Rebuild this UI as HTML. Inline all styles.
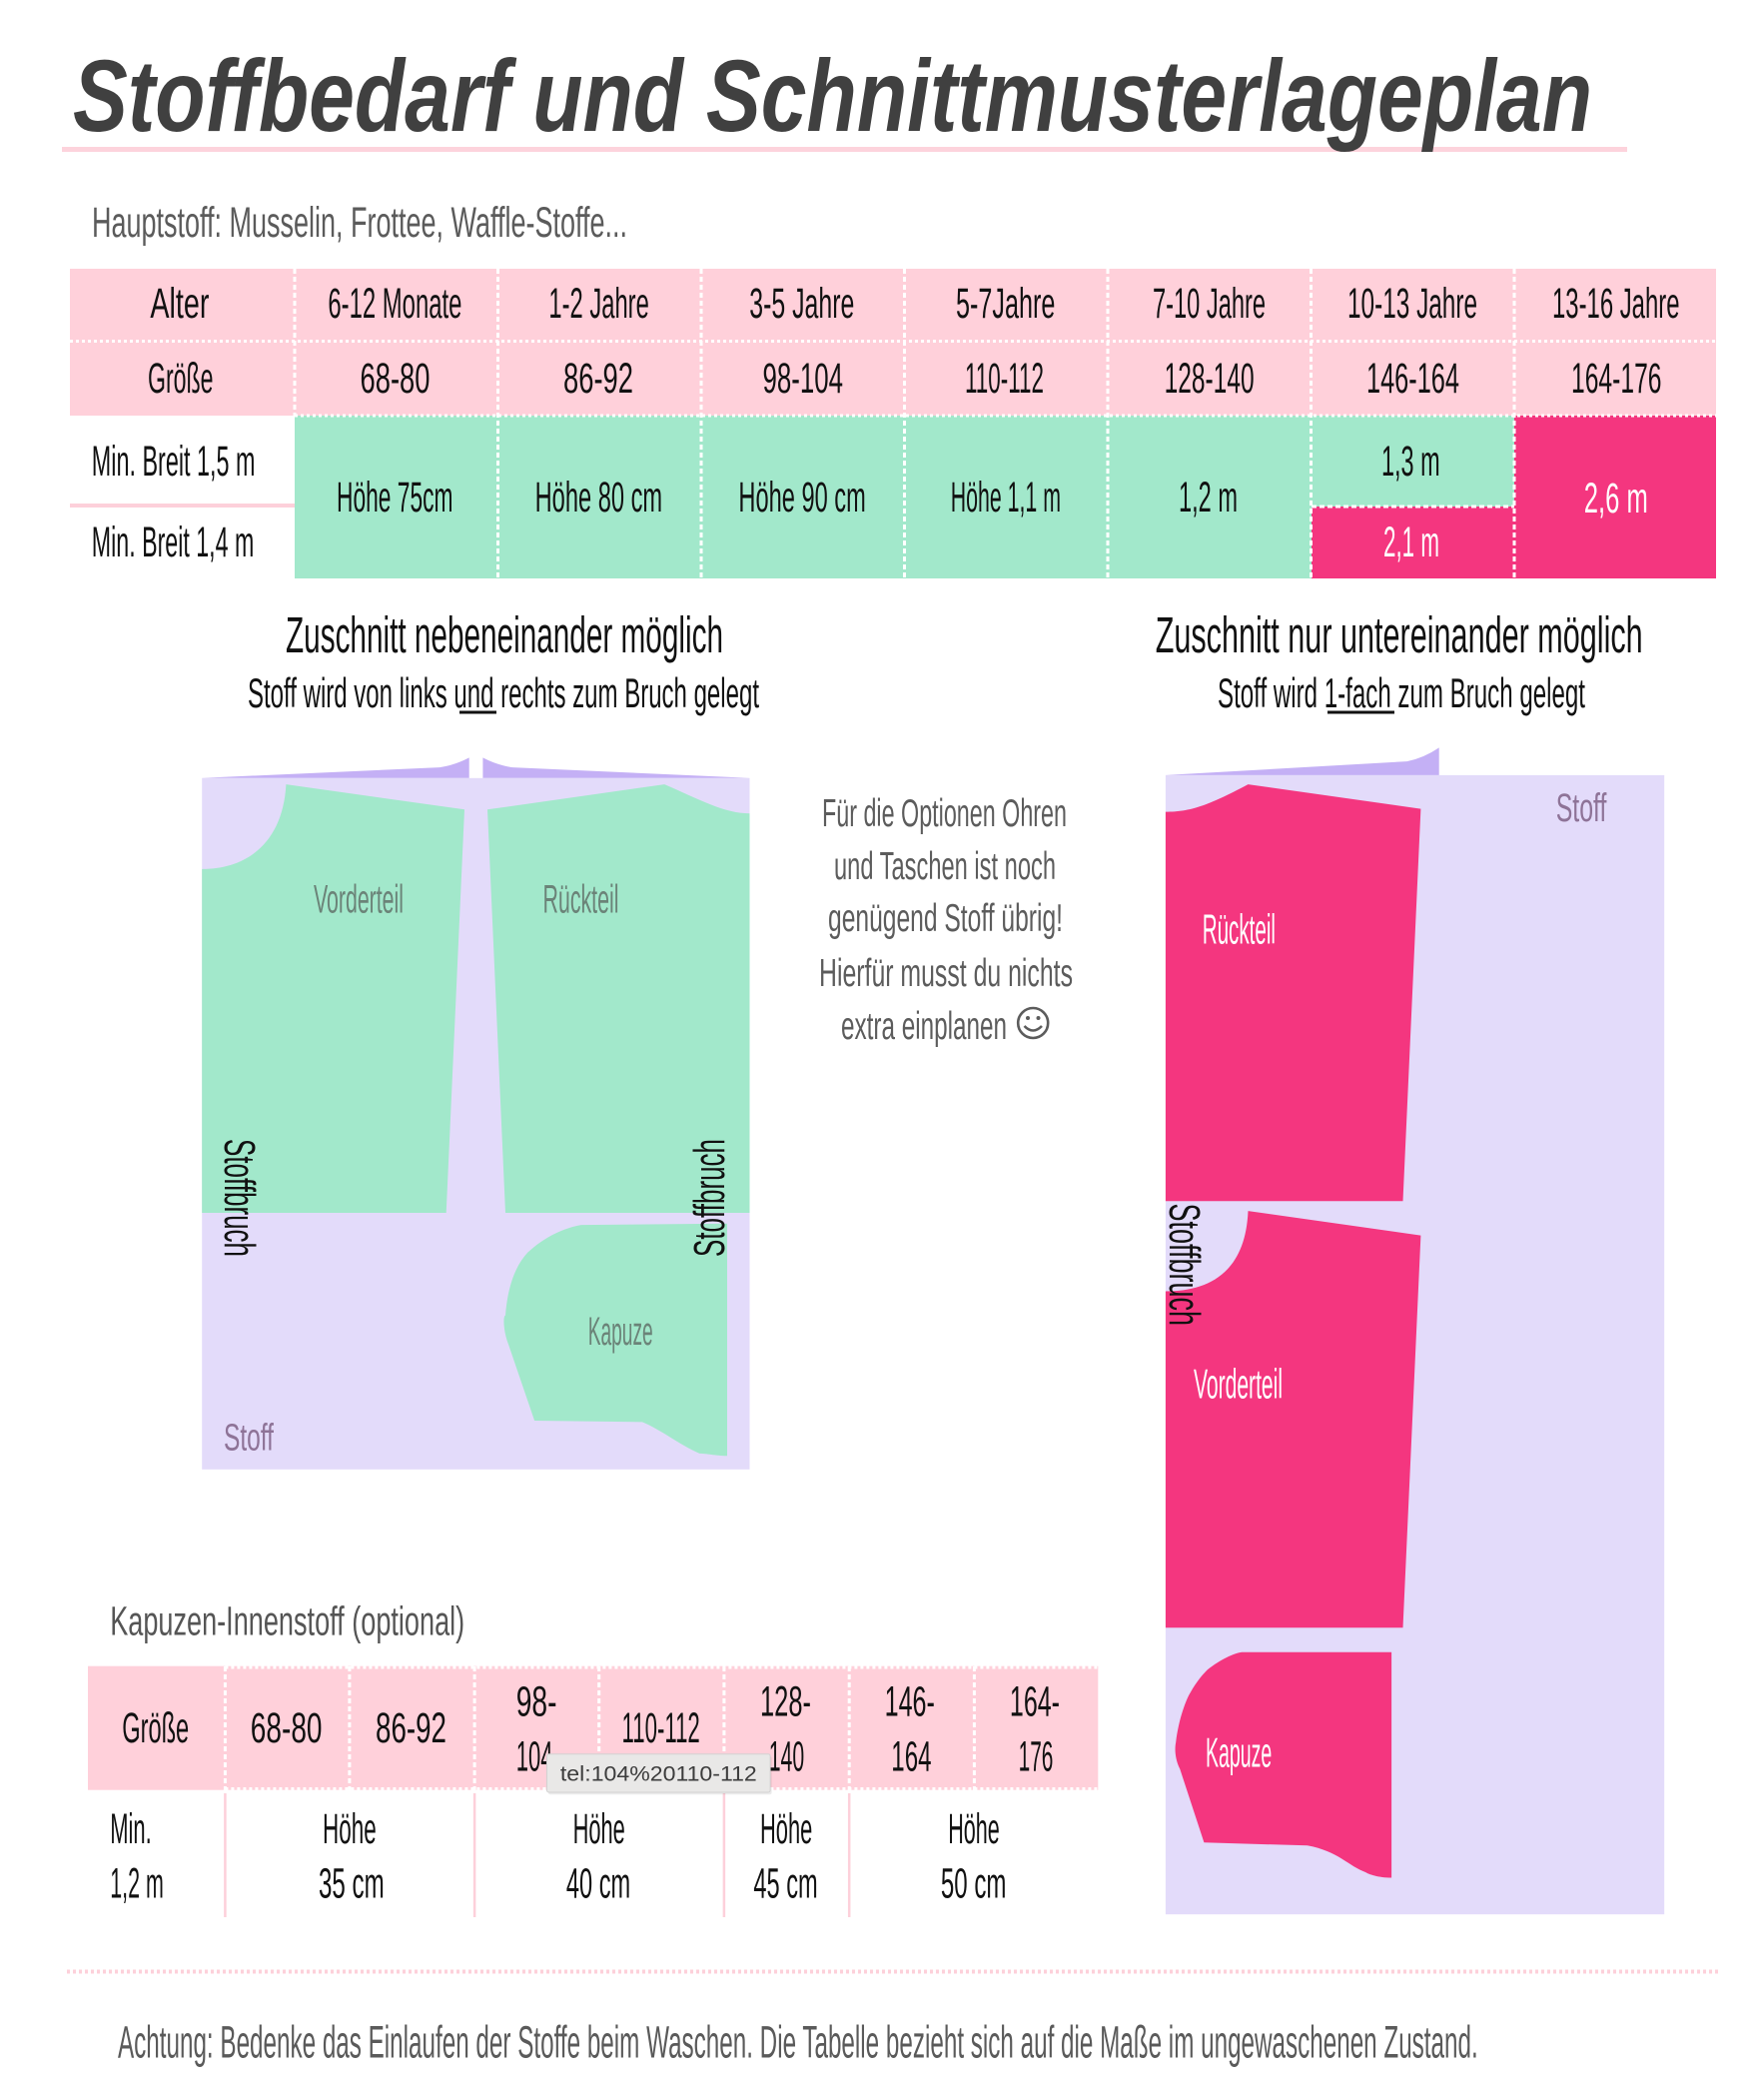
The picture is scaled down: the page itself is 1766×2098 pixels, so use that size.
<!DOCTYPE html>
<html>
<head>
<meta charset="utf-8">
<style>
  html,body{margin:0;padding:0;background:#ffffff;}
  svg{display:block;}
  text{font-family:"Liberation Sans","DejaVu Sans",sans-serif;}
</style>
</head>
<body>
<svg xmlns="http://www.w3.org/2000/svg" width="1766" height="2098" viewBox="0 0 1766 2098">
  <rect x="0" y="0" width="1766" height="2098" fill="#ffffff"/>

  <!-- Title -->
  <rect x="62" y="147" width="1567" height="5" fill="#fdd3dc"/>
  <text x="73" y="131" font-size="102" font-weight="bold" font-style="italic" fill="#404040" textLength="1521" lengthAdjust="spacingAndGlyphs">Stoffbedarf und Schnittmusterlageplan</text>

  <text x="92" y="237" font-size="43" fill="#5b5b5b" textLength="536" lengthAdjust="spacingAndGlyphs">Hauptstoff: Musselin, Frottee, Waffle-Stoffe...</text>

  <!-- Main table -->
  <rect x="70" y="269" width="1648" height="147" fill="#ffd0da"/>
  <rect x="295" y="416" width="1018" height="163" fill="#a2e8cb"/>
  <rect x="1313" y="416" width="203" height="91" fill="#a2e8cb"/>
  <rect x="1313" y="507" width="203" height="72" fill="#f4367f"/>
  <rect x="1516" y="416" width="202" height="163" fill="#f4367f"/>
  <rect x="70" y="504" width="225" height="4" fill="#fdd0da"/>

  <g stroke="#ffffff" stroke-width="3" fill="none">
    <line x1="70" y1="341.5" x2="1718" y2="341.5" stroke-dasharray="3 3"/>
    <line x1="295" y1="416" x2="1718" y2="416" stroke-dasharray="3 3"/>
    <line x1="1313" y1="507" x2="1516" y2="507" stroke-dasharray="5 3"/>
    <line x1="295" y1="269" x2="295" y2="416" stroke-dasharray="5 3"/>
    <line x1="498.5" y1="269" x2="498.5" y2="579" stroke-dasharray="5 3"/>
    <line x1="702" y1="269" x2="702" y2="579" stroke-dasharray="5 3"/>
    <line x1="905.5" y1="269" x2="905.5" y2="579" stroke-dasharray="5 3"/>
    <line x1="1109" y1="269" x2="1109" y2="579" stroke-dasharray="5 3"/>
    <line x1="1312.5" y1="269" x2="1312.5" y2="579" stroke-dasharray="5 3"/>
    <line x1="1516" y1="269" x2="1516" y2="579" stroke-dasharray="5 3"/>
  </g>

  <g font-size="43" fill="#111111" lengthAdjust="spacingAndGlyphs">
    <text x="150.4" y="318" textLength="59" lengthAdjust="spacingAndGlyphs">Alter</text>
    <text x="328.4" y="318" textLength="134" lengthAdjust="spacingAndGlyphs">6-12 Monate</text>
    <text x="549.4" y="318" textLength="100.4" lengthAdjust="spacingAndGlyphs">1-2 Jahre</text>
    <text x="750.3" y="318" textLength="105" lengthAdjust="spacingAndGlyphs">3-5 Jahre</text>
    <text x="957" y="318" textLength="99.4" lengthAdjust="spacingAndGlyphs">5-7Jahre</text>
    <text x="1154" y="318" textLength="113" lengthAdjust="spacingAndGlyphs">7-10 Jahre</text>
    <text x="1349" y="318" textLength="130" lengthAdjust="spacingAndGlyphs">10-13 Jahre</text>
    <text x="1554" y="318" textLength="127.5" lengthAdjust="spacingAndGlyphs">13-16 Jahre</text>

    <text x="148" y="393" textLength="65.5" lengthAdjust="spacingAndGlyphs">Größe</text>
    <text x="360.5" y="393" textLength="70" lengthAdjust="spacingAndGlyphs">68-80</text>
    <text x="564" y="393" textLength="70" lengthAdjust="spacingAndGlyphs">86-92</text>
    <text x="763.5" y="393" textLength="80.5" lengthAdjust="spacingAndGlyphs">98-104</text>
    <text x="966" y="393" textLength="79" lengthAdjust="spacingAndGlyphs">110-112</text>
    <text x="1165.6" y="393" textLength="90" lengthAdjust="spacingAndGlyphs">128-140</text>
    <text x="1368" y="393" textLength="93" lengthAdjust="spacingAndGlyphs">146-164</text>
    <text x="1573" y="393" textLength="90.5" lengthAdjust="spacingAndGlyphs">164-176</text>

    <text x="91.8" y="476" textLength="163.7" lengthAdjust="spacingAndGlyphs">Min. Breit 1,5 m</text>
    <text x="91.8" y="557" textLength="162.5" lengthAdjust="spacingAndGlyphs">Min. Breit 1,4 m</text>
    <text x="337" y="512" textLength="116.5" lengthAdjust="spacingAndGlyphs">Höhe 75cm</text>
    <text x="535.6" y="512" textLength="127.5" lengthAdjust="spacingAndGlyphs">Höhe 80 cm</text>
    <text x="739.4" y="512" textLength="127.4" lengthAdjust="spacingAndGlyphs">Höhe 90 cm</text>
    <text x="951.7" y="512" textLength="110.3" lengthAdjust="spacingAndGlyphs">Höhe 1,1 m</text>
    <text x="1180" y="512" textLength="59" lengthAdjust="spacingAndGlyphs">1,2 m</text>
    <text x="1383" y="476" textLength="58.6" lengthAdjust="spacingAndGlyphs">1,3 m</text>
    <text x="1385" y="557" textLength="56" lengthAdjust="spacingAndGlyphs" fill="#ffffff">2,1 m</text>
    <text x="1585.8" y="513" textLength="64" lengthAdjust="spacingAndGlyphs" fill="#ffffff">2,6 m</text>
  </g>

  <!-- Section headings -->
  <g fill="#111111">
    <text x="286" y="653" font-size="51" textLength="438" lengthAdjust="spacingAndGlyphs">Zuschnitt nebeneinander möglich</text>
    <text x="248" y="708" font-size="42" textLength="512" lengthAdjust="spacingAndGlyphs">Stoff wird von links und rechts zum Bruch gelegt</text>
    <rect x="460" y="711.5" width="37" height="3"/>
    <text x="1156.7" y="653" font-size="51" textLength="488" lengthAdjust="spacingAndGlyphs">Zuschnitt nur untereinander möglich</text>
    <text x="1219" y="708" font-size="42" textLength="368" lengthAdjust="spacingAndGlyphs">Stoff wird 1-fach zum Bruch gelegt</text>
    <rect x="1329" y="711.5" width="67" height="3"/>
  </g>

  <!-- Middle note -->
  <g fill="#5c5c5c" font-size="39">
    <text x="823" y="827" textLength="245" lengthAdjust="spacingAndGlyphs">Für die Optionen Ohren</text>
    <text x="835" y="880" textLength="222" lengthAdjust="spacingAndGlyphs">und Taschen ist noch</text>
    <text x="829" y="932" textLength="235" lengthAdjust="spacingAndGlyphs">genügend Stoff übrig!</text>
    <text x="820" y="987" textLength="254" lengthAdjust="spacingAndGlyphs">Hierfür musst du nichts</text>
    <text x="842" y="1040" textLength="166" lengthAdjust="spacingAndGlyphs">extra einplanen</text>
  </g>
  <g fill="none" stroke="#5c5c5c" stroke-width="2.6">
    <circle cx="1034.2" cy="1024" r="15"/>
    <path d="M1025.5 1027 Q1034.2 1036 1043 1027"/>
  </g>
  <circle cx="1029" cy="1019" r="2" fill="#5c5c5c"/>
  <circle cx="1039.5" cy="1019" r="2" fill="#5c5c5c"/>

  <!-- Left diagram -->
  <rect x="202.2" y="778.8" width="548.3" height="692" fill="#e3dbfa"/>
  <path d="M202.2 778.8 L440.2 768.1 Q455 766 469.7 758.4 L469.7 778.8 Z" fill="#c4b0f5"/>
  <path d="M483.4 758.4 Q498 766 513 768.1 L750.5 778.8 L483.4 778.8 Z" fill="#c4b0f5"/>
  <path d="M286.4 785.1 L465 810.3 L446.7 1214 L202.2 1214 L202.2 869.9 C248.9 869.9 283.3 841.8 286.4 785.1 Z" fill="#a2e8cb"/>
  <path d="M488 810.3 L665.2 785.1 C700 800 725 814.2 750.5 814.2 L750.5 1214 L506 1214 Z" fill="#a2e8cb"/>
  <path d="M581.8 1226.1 L728 1224.7 L728 1457.3 C715 1457 708 1455 700.4 1454.9 C680 1446 660 1430 643 1423.4 L535.1 1422 L509.1 1345.9 C503 1330 504 1316 506 1316.8 C508 1290 515 1268 528.2 1253.8 C545 1238 565 1229 581.8 1226.1 Z" fill="#a2e8cb"/>
  <g fill="#6b8378" font-size="40">
    <text x="314" y="913.5" textLength="90" lengthAdjust="spacingAndGlyphs">Vorderteil</text>
    <text x="543.5" y="913.5" textLength="76" lengthAdjust="spacingAndGlyphs">Rückteil</text>
    <text x="588.7" y="1346" textLength="65" lengthAdjust="spacingAndGlyphs">Kapuze</text>
  </g>
  <text x="224" y="1451.5" font-size="38" fill="#8e7397" textLength="50" lengthAdjust="spacingAndGlyphs">Stoff</text>
  <text transform="translate(225,1140) rotate(90)" x="0" y="0" font-size="44" fill="#111111" textLength="118" lengthAdjust="spacingAndGlyphs">Stoffbruch</text>
  <text transform="translate(725,1258) rotate(-90)" x="0" y="0" font-size="44" fill="#111111" textLength="118" lengthAdjust="spacingAndGlyphs">Stoffbruch</text>

  <!-- Right diagram -->
  <rect x="1166.9" y="775.9" width="499.3" height="1140.3" fill="#e3dbfa"/>
  <path d="M1166.9 775.9 L1408.6 762.1 Q1425 759 1440.7 748.4 L1440.7 775.9 Z" fill="#c4b0f5"/>
  <path d="M1166.9 812.6 C1191.7 812.6 1208.9 806.5 1249.5 785.1 L1422.4 809.6 L1404.5 1202.2 L1166.9 1202.2 Z" fill="#f4367f"/>
  <path d="M1249.5 1212.1 L1422.4 1236.6 L1404.5 1629.2 L1166.9 1629.2 L1166.9 1292.5 C1208.9 1292.5 1246.8 1275 1249.5 1212.1 Z" fill="#f4367f"/>
  <path d="M1243.3 1653.8 L1393.1 1653.8 L1393.1 1879.5 C1380 1879.5 1370 1876 1367.3 1874.1 C1350 1868 1340 1853 1308.8 1847.3 L1205.4 1844.3 L1181.3 1770.8 C1176 1760 1176 1750 1177.2 1744 C1180 1720 1188 1700 1191.7 1694.3 C1198 1683 1205 1675 1208.9 1671.3 C1222 1661 1235 1655 1243.3 1653.8 Z" fill="#f4367f"/>
  <g fill="#ffffff" font-size="42">
    <text x="1203.7" y="944.3" textLength="73.3" lengthAdjust="spacingAndGlyphs">Rückteil</text>
    <text x="1195" y="1399.6" textLength="89" lengthAdjust="spacingAndGlyphs">Vorderteil</text>
    <text x="1207" y="1768.5" textLength="66.3" lengthAdjust="spacingAndGlyphs">Kapuze</text>
  </g>
  <text x="1557.7" y="821.8" font-size="40" fill="#8e7397" textLength="50.7" lengthAdjust="spacingAndGlyphs">Stoff</text>
  <text transform="translate(1171,1204.5) rotate(90)" x="0" y="0" font-size="44" fill="#111111" textLength="122.5" lengthAdjust="spacingAndGlyphs">Stoffbruch</text>

  <!-- Kapuzen-Innenstoff table -->
  <text x="110.2" y="1636.7" font-size="41" fill="#555555" textLength="355" lengthAdjust="spacingAndGlyphs">Kapuzen-Innenstoff (optional)</text>
  <rect x="88" y="1667.7" width="1011.3" height="124" fill="#ffd0da"/>
  <g stroke="#ffffff" stroke-width="3" fill="none">
    <line x1="225.4" y1="1669" x2="1099.3" y2="1669" stroke-dasharray="3 3"/>
    <line x1="225.4" y1="1790.5" x2="1099.3" y2="1790.5" stroke-dasharray="3 3"/>
    <line x1="225.4" y1="1668" x2="225.4" y2="1792" stroke-dasharray="5 3"/>
    <line x1="349.9" y1="1668" x2="349.9" y2="1792" stroke-dasharray="5 3"/>
    <line x1="475.1" y1="1668" x2="475.1" y2="1792" stroke-dasharray="5 3"/>
    <line x1="599.7" y1="1668" x2="599.7" y2="1792" stroke-dasharray="5 3"/>
    <line x1="724.9" y1="1668" x2="724.9" y2="1792" stroke-dasharray="5 3"/>
    <line x1="850.2" y1="1668" x2="850.2" y2="1792" stroke-dasharray="5 3"/>
    <line x1="975.4" y1="1668" x2="975.4" y2="1792" stroke-dasharray="5 3"/>
  </g>
  <g stroke="#fdd0da" stroke-width="2.5">
    <line x1="225.4" y1="1795" x2="225.4" y2="1919"/>
    <line x1="475.1" y1="1795" x2="475.1" y2="1919"/>
    <line x1="724.9" y1="1795" x2="724.9" y2="1919"/>
    <line x1="850.2" y1="1795" x2="850.2" y2="1919"/>
  </g>
  <g font-size="43" fill="#111111">
    <text x="122.2" y="1744" textLength="67" lengthAdjust="spacingAndGlyphs">Größe</text>
    <text x="250.8" y="1744" textLength="71.7" lengthAdjust="spacingAndGlyphs">68-80</text>
    <text x="376" y="1744" textLength="71" lengthAdjust="spacingAndGlyphs">86-92</text>
    <text x="516.7" y="1717.3" textLength="40.8" lengthAdjust="spacingAndGlyphs">98-</text>
    <text x="516.7" y="1772.7" textLength="36.8" lengthAdjust="spacingAndGlyphs">104</text>
    <text x="622.5" y="1744" textLength="78.3" lengthAdjust="spacingAndGlyphs">110-112</text>
    <text x="761" y="1717.3" textLength="51" lengthAdjust="spacingAndGlyphs">128-</text>
    <text x="769.7" y="1772.7" textLength="35.5" lengthAdjust="spacingAndGlyphs">140</text>
    <text x="885.6" y="1717.3" textLength="50.3" lengthAdjust="spacingAndGlyphs">146-</text>
    <text x="892.3" y="1772.7" textLength="40.2" lengthAdjust="spacingAndGlyphs">164</text>
    <text x="1010.9" y="1717.3" textLength="50.1" lengthAdjust="spacingAndGlyphs">164-</text>
    <text x="1019.6" y="1772.7" textLength="34.8" lengthAdjust="spacingAndGlyphs">176</text>

    <text x="110.2" y="1845" textLength="41.5" lengthAdjust="spacingAndGlyphs">Min.</text>
    <text x="110.2" y="1899.3" textLength="53.6" lengthAdjust="spacingAndGlyphs">1,2 m</text>
    <text x="323" y="1845" textLength="53.7" lengthAdjust="spacingAndGlyphs">Höhe</text>
    <text x="319" y="1899.3" textLength="65.7" lengthAdjust="spacingAndGlyphs">35 cm</text>
    <text x="573.6" y="1845" textLength="52.2" lengthAdjust="spacingAndGlyphs">Höhe</text>
    <text x="566.9" y="1899.3" textLength="64.3" lengthAdjust="spacingAndGlyphs">40 cm</text>
    <text x="761" y="1845" textLength="52.3" lengthAdjust="spacingAndGlyphs">Höhe</text>
    <text x="754.4" y="1899.3" textLength="64.3" lengthAdjust="spacingAndGlyphs">45 cm</text>
    <text x="949.2" y="1845" textLength="51.6" lengthAdjust="spacingAndGlyphs">Höhe</text>
    <text x="941.9" y="1899.3" textLength="65.6" lengthAdjust="spacingAndGlyphs">50 cm</text>
  </g>

  <!-- Tooltip -->
  <rect x="549" y="1758" width="223.6" height="38.3" rx="2" fill="#000000" opacity="0.08"/>
  <rect x="547.5" y="1755.7" width="223.6" height="38.3" rx="2" fill="#e9e8e7" stroke="#d2d2d2" stroke-width="1"/>
  <text x="560.9" y="1782.3" font-size="21" fill="#3c3c3c" textLength="196.9" lengthAdjust="spacingAndGlyphs">tel:104%20110-112</text>

  <!-- Footer -->
  <line x1="67" y1="1973.5" x2="1722.6" y2="1973.5" stroke="#fdd0da" stroke-width="4" stroke-dasharray="3 3"/>
  <text x="118" y="2059.3" font-size="45" fill="#5a5a5a" textLength="1361.7" lengthAdjust="spacingAndGlyphs">Achtung: Bedenke das Einlaufen der Stoffe beim Waschen. Die Tabelle bezieht sich auf die Maße im ungewaschenen Zustand.</text>
</svg>
</body>
</html>
